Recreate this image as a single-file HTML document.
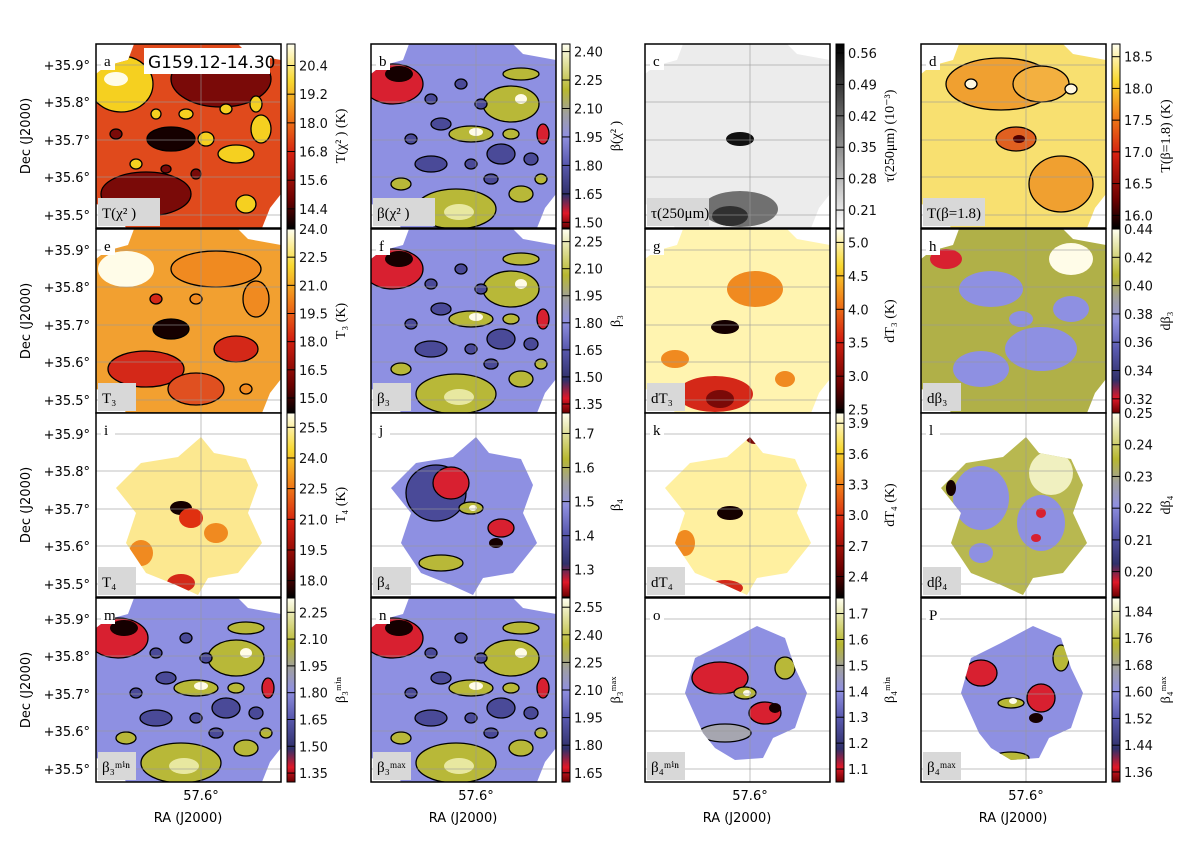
<!DOCTYPE html>
<html><head><meta charset="utf-8">
<style>
html,body{margin:0;padding:0;background:#fff;}
svg text{font-family:"DejaVu Sans","Liberation Sans",sans-serif;}
.serif{font-family:"Liberation Serif","DejaVu Serif",serif;}
</style></head>
<body>
<svg id="fig" xmlns="http://www.w3.org/2000/svg" width="1200" height="842" viewBox="0 0 1200 842"></svg>
<script>
// ---- data ----
const panelLetters = ["a","b","c","d","e","f","g","h","i","j","k","l","m","n","o","P"];
const panelNames = ["T(χ² )","β(χ² )","τ(250μm)","T(β=1.8)","T₃","β₃","dT₃","dβ₃","T₄","β₄","dT₄","dβ₄","β₃ᵐⁱⁿ","β₃ᵐᵃˣ","β₄ᵐⁱⁿ","β₄ᵐᵃˣ"];
const cbarTitles = ["T(χ² ) (K)","β(χ² )","τ(250μm) (10⁻³)","T(β=1.8) (K)","T₃ (K)","β₃","dT₃ (K)","dβ₃","T₄ (K)","β₄","dT₄ (K)","dβ₄","β₃ᵐⁱⁿ","β₃ᵐᵃˣ","β₄ᵐⁱⁿ","β₄ᵐᵃˣ"];
const ticksA=[14.4,15.6,16.8,18.0,19.2,20.4], ticksB=[1.50,1.65,1.80,1.95,2.10,2.25,2.40], ticksC=[0.21,0.28,0.35,0.42,0.49,0.56], ticksD=[16.0,16.5,17.0,17.5,18.0,18.5];
const ticksE=[15.0,16.5,18.0,19.5,21.0,22.5,24.0], ticksF=[1.35,1.50,1.65,1.80,1.95,2.10,2.25], ticksG=[2.5,3.0,3.5,4.0,4.5,5.0], ticksH=[0.32,0.34,0.36,0.38,0.40,0.42,0.44];
const ticksI=[18.0,19.5,21.0,22.5,24.0,25.5], ticksJ=[1.3,1.4,1.5,1.6,1.7], ticksK=[2.4,2.7,3.0,3.3,3.6,3.9], ticksL=[0.20,0.21,0.22,0.23,0.24,0.25];
const ticksM=[1.35,1.50,1.65,1.80,1.95,2.10,2.25], ticksN=[1.65,1.80,1.95,2.10,2.25,2.40,2.55], ticksO=[1.1,1.2,1.3,1.4,1.5,1.6,1.7], ticksP=[1.36,1.44,1.52,1.60,1.68,1.76,1.84];
const allTicks=[ticksA,ticksB,ticksC,ticksD,ticksE,ticksF,ticksG,ticksH,ticksI,ticksJ,ticksK,ticksL,ticksM,ticksN,ticksO,ticksP];
const tickDecimals=[1,2,2,1,1,2,1,2,1,1,1,2,2,2,1,2];
const domLo=[13.6,1.47,0.17,15.8,14.2,1.30,2.45,0.31,17.2,1.22,2.2,0.192,1.30,1.60,1.05,1.33];
const domHi=[21.3,2.44,0.58,18.7,24.0,2.32,5.2,0.44,26.2,1.76,4.0,0.25,2.33,2.60,1.76,1.88];
const decLabels=["+35.9°","+35.8°","+35.7°","+35.6°","+35.5°"];
const decOffsets=[21,58,96,133,171];

// ---- layout ----
const colX=[96,371,645,921], rowY=[44,229,413,598], PW=185, PH=184;
const svg=document.getElementById('fig');
const NS="http://www.w3.org/2000/svg";
function mk(tag,attrs,parent){const e=document.createElementNS(NS,tag);for(const k in attrs)e.setAttribute(k,attrs[k]);(parent||svg).appendChild(e);return e;}

const cmTemp=[[0,"#000000"],[0.15,"#6a0000"],[0.4,"#d42010"],[0.6,"#f07a18"],[0.8,"#f8d830"],[1,"#fffff0"]];
const cmBeta=[[0,"#6a0000"],[0.08,"#e01828"],[0.18,"#30306a"],[0.35,"#5a5ab0"],[0.5,"#9090e0"],[0.62,"#a0a0a0"],[0.75,"#b8b830"],[1,"#fffff0"]];
const cmGray=[[0,"#ffffff"],[1,"#000000"]];
const cmaps=[cmTemp,cmBeta,cmGray,cmTemp,cmTemp,cmBeta,cmTemp,cmBeta,cmTemp,cmBeta,cmTemp,cmBeta,cmBeta,cmBeta,cmBeta,cmBeta];

const full="M38,0 L142,0 L152,10 L185,16 L185,150 L174,164 L166,184 L30,184 L22,166 L0,160 L0,30 L10,22 L32,16 Z";
const small="M105,24 L118,40 L150,46 L162,72 L152,100 L166,130 L142,160 L112,165 L102,182 L80,172 L50,160 L30,130 L40,100 L20,75 L45,50 L82,44 Z";
const smaller="M112,28 L140,40 L150,70 L162,95 L150,130 L128,140 L118,160 L90,162 L70,150 L58,135 L40,95 L50,60 L80,45 Z";
const shapes=[full,full,full,full,full,full,full,full,small,small,small,small,full,full,smaller,smaller];
const Y="#f5d020",W="#fffce8",O="#f08a20",R="#d42818",DR="#7a0a08",K="#150000",BL="#8e90e2",DB="#4a4a98",OL="#b8b838",LY="#e8e8a0",GR="#a6a6b0",RD="#d82030";
const bases=["#e04a1c",BL,"#ececec","#f8e070","#f2a030",BL,"#fff4b0","#b0b048","#fce890",BL,"#fff0a0","#b8b850",BL,BL,BL,BL];
const betaP=[[22,40,30,20,RD,1],[28,30,14,8,K,0],[140,60,28,18,OL,1],[150,55,6,5,W,0],[100,90,22,8,OL,1],[105,88,7,4,W,0],[85,165,40,20,OL,1],[88,168,15,8,LY,0],[150,150,12,8,OL,1],[60,120,16,8,DB,1],[130,110,14,10,DB,1],[172,90,6,10,RD,1],[70,80,10,6,DB,1],[150,30,18,6,OL,1],[40,95,6,5,DB,1],[90,40,6,5,DB,1],[120,135,7,5,DB,1],[160,115,7,6,DB,1],[30,140,10,6,OL,1],[110,60,6,5,DB,1],[60,55,6,5,DB,1],[140,90,8,5,OL,1],[100,120,6,5,DB,1],[170,135,6,5,OL,1]];
const tempP=[[25,40,32,28,Y,1],[20,35,12,7,W,0],[125,35,50,28,DR,1],[75,95,24,12,K,1],[50,150,45,22,DR,1],[140,110,18,9,Y,1],[165,85,10,14,Y,1],[110,95,8,7,Y,1],[150,160,10,9,Y,1],[90,70,7,5,Y,1],[60,70,5,5,Y,1],[130,65,6,5,Y,1],[40,120,6,5,Y,1],[100,130,5,5,DR,1],[160,60,6,8,Y,1],[70,125,5,4,DR,1],[20,90,6,5,DR,1]];
const patches=[
 tempP, betaP,
 [[95,165,38,18,"#707070",0],[95,95,14,7,"#101010",0],[85,172,18,10,"#303030",0]],
 [[80,40,55,26,"#f0a030",1],[120,40,28,18,"#f3b040",1],[95,95,20,12,"#e06020",1],[98,95,6,4,"#500000",0],[140,140,32,28,"#f0a030",1],[50,40,6,5,"#fff8e0",1],[150,45,6,5,"#fff8e0",1]],
 [[30,40,28,18,W,0],[120,40,45,18,O,1],[75,100,18,10,K,1],[50,140,38,18,R,1],[140,120,22,13,R,1],[100,160,28,16,"#e05020",1],[160,70,13,18,O,1],[60,70,6,5,R,1],[100,70,6,5,O,1],[150,160,6,5,O,1]],
 betaP,
 [[110,60,28,18,O,0],[80,98,14,7,K,0],[70,165,38,18,R,0],[75,170,14,9,DR,0],[30,130,14,9,O,0],[140,150,10,8,O,0]],
 [[25,30,16,10,RD,0],[70,60,32,18,BL,0],[120,120,36,22,BL,0],[60,140,28,18,BL,0],[150,30,22,16,W,0],[150,80,18,13,BL,0],[100,90,12,8,BL,0]],
 [[85,95,11,7,K,0],[85,170,14,9,R,0],[45,140,12,13,O,0],[95,105,12,10,"#e03010",0],[120,120,12,10,O,0]],
 [[65,80,30,28,DB,1],[80,70,18,16,RD,1],[100,95,12,6,OL,1],[102,95,4,3,W,0],[130,115,13,9,RD,1],[125,130,7,5,K,0],[70,150,22,8,OL,1]],
 [[85,100,13,7,K,0],[110,25,9,6,DR,0],[80,175,18,8,R,0],[40,130,10,13,O,0]],
 [[60,85,28,32,BL,0],[120,110,24,28,BL,0],[30,75,5,8,K,0],[115,125,5,4,RD,0],[120,100,5,5,RD,0],[130,60,22,22,"#f0f0c0",0],[60,140,12,10,BL,0]],
 betaP, betaP,
 [[75,80,28,16,RD,1],[120,115,16,11,RD,1],[130,110,6,5,K,0],[100,95,11,6,OL,1],[102,95,4,3,W,0],[140,70,10,11,OL,1],[80,135,26,9,GR,1]],
 [[60,75,16,13,RD,1],[120,100,14,14,RD,1],[115,120,7,5,K,0],[90,105,13,5,OL,1],[92,103,4,3,W,0],[90,160,18,6,OL,1],[140,60,8,13,OL,1]]
];

const defs=mk('defs',{});
for(let i=0;i<16;i++){
  const g=mk('linearGradient',{id:'cm'+i,x1:0,y1:1,x2:0,y2:0},defs);
  cmaps[i].forEach(s=>mk('stop',{offset:s[0],'stop-color':s[1]},g));
}

for(let i=0;i<16;i++){
  const r=Math.floor(i/4), c=i%4, x0=colX[c], y0=rowY[r];
  const g=mk('g',{transform:`translate(${x0},${y0})`});
  
  
  const cp=mk('clipPath',{id:'clip'+i},defs);
  mk('path',{d:shapes[i]},cp);
  mk('rect',{x:0,y:0,width:PW,height:PH,fill:'#fff'},g);
  mk('path',{d:shapes[i],fill:bases[i]},g);
  const pg=mk('g',{'clip-path':`url(#clip${i})`},g);
  patches[i].forEach(p=>{
    const e=mk('ellipse',{cx:p[0],cy:p[1],rx:p[2],ry:p[3],fill:p[4]},pg);
    if(p[5]){e.setAttribute('stroke','#000');e.setAttribute('stroke-width','1.3');}
  });
  decOffsets.forEach(d=>mk('line',{x1:0,x2:PW,y1:d,y2:d,stroke:'#999','stroke-width':1,opacity:0.6},g));
  mk('line',{x1:105,x2:105,y1:0,y2:PH,stroke:'#999','stroke-width':1,opacity:0.6},g);
  mk('rect',{x:5,y:8,width:14,height:18,fill:'#fff'},g);
  const lt=mk('text',{x:8,y:22,'font-size':15,class:'serif'},g); lt.textContent=panelLetters[i];
  const nb=mk('rect',{x:2,y:PH-30,width:panelNames[i].length>5?62:38,height:28,fill:'#d8d8d8'},g);
  
  
  const nt=mk('text',{x:6,y:PH-10,'font-size':15,class:'serif'},g); nt.textContent=panelNames[i];
  mk('rect',{x:0,y:0,width:PW,height:PH,fill:'none',stroke:'#000','stroke-width':1.5},g);
  const cb=mk('g',{transform:`translate(${x0+PW+6},${y0})`});
  
  
  mk('rect',{x:0,y:0,width:8,height:PH,fill:`url(#cm${i})`,stroke:'#000','stroke-width':1},cb);
  const lo=domLo[i], hi=domHi[i];
  const sy=v=>PH-(v-lo)/(hi-lo)*PH;
  allTicks[i].forEach(v=>{
    const y=sy(v);
    mk('line',{x1:0,x2:8,y1:y,y2:y,stroke:'#000','stroke-width':1},cb);
    const t=mk('text',{x:12,y:y+5,'font-size':13,fill:'#111'},cb);
    
    
    t.textContent=v.toFixed(tickDecimals[i]);
  });
  const ct=mk('text',{x:0,y:0,'font-size':14,class:'serif','text-anchor':'middle',transform:`translate(58,${PH/2}) rotate(-90)`},cb);
  
  
  ct.textContent=cbarTitles[i];
}
for(let r=0;r<4;r++){
  decLabels.forEach((l,k)=>{
    const t=mk('text',{x:90,y:rowY[r]+decOffsets[k]+5,'font-size':13,'text-anchor':'end'});
    
    
    t.textContent=l;
  });
  const t=mk('text',{x:0,y:0,'font-size':13,'text-anchor':'middle',transform:`translate(30,${rowY[r]+PH/2}) rotate(-90)`});
  
  
  t.textContent='Dec (J2000)';
}
for(let c=0;c<4;c++){
  const t=mk('text',{x:colX[c]+105,y:800,'font-size':13,'text-anchor':'middle'});
  
  
  t.textContent='57.6°';
  const a=mk('text',{x:colX[c]+92,y:822,'font-size':13,'text-anchor':'middle'});
  
  
  a.textContent='RA (J2000)';
}
const fb=mk('rect',{x:144,y:48,width:126,height:26,fill:'#fff'});


const ft=mk('text',{x:148,y:68,'font-size':17});


ft.textContent='G159.12-14.30';
</script>
</body></html>
